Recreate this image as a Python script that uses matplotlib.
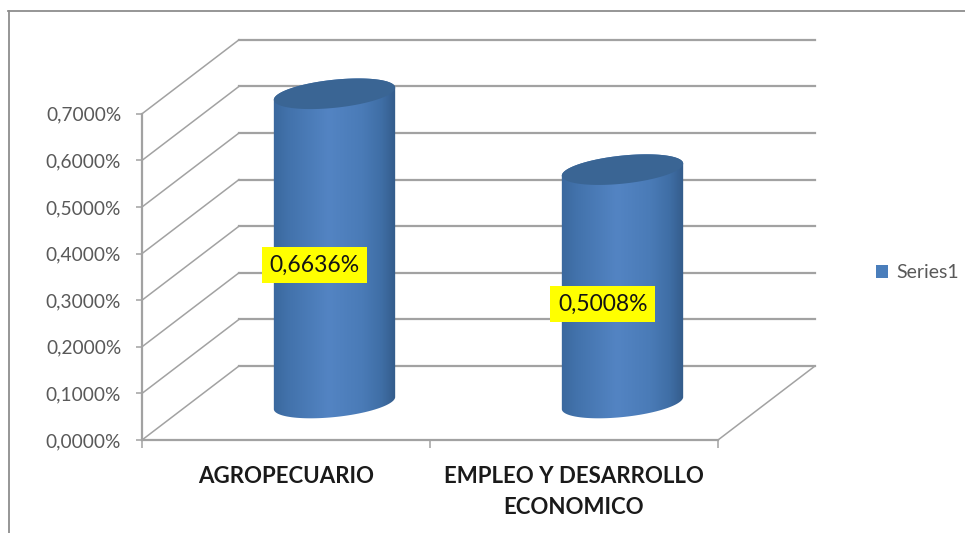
import numpy as np
import matplotlib
matplotlib.use("Agg")
import matplotlib.pyplot as plt
from matplotlib.colors import LinearSegmentedColormap
from matplotlib.lines import Line2D
from matplotlib.patches import Patch, Polygon

categories = ["AGROPECUARIO", "EMPLEO Y DESARROLLO\nECONOMICO"]
values = [0.6636, 0.5008]
value_labels = ["0,6636%", "0,5008%"]
y_ticks = [0.0, 0.1, 0.2, 0.3, 0.4, 0.5, 0.6, 0.7]
y_tick_labels = ["0,0000%", "0,1000%", "0,2000%", "0,3000%", "0,4000%", "0,5000%", "0,6000%", "0,7000%"]
series_name = "Series1"
label_frac = [0.565, 0.583]

W, H = 965, 533
X0, Y0, PX_CAT, PX_VAL = 142, 440, 288, 466   # pixel position of the origin, pixels per unit
DEPTH_X, DEPTH_Y = 97 / PX_CAT, 74 / PX_VAL
GRID = "#a2a2a2"
TICK_TXT = "#595959"

fig = plt.figure(figsize=(W / 100, H / 100), dpi=100)
ax = fig.add_axes([0, 0, 1, 1])
ax.patch.set_alpha(0)
xlim = (-X0 / PX_CAT, (W - X0) / PX_CAT)
ylim = ((Y0 - H) / PX_VAL, Y0 / PX_VAL)

# outer chart frame
for xs, ys in (([8.5 / W, 8.5 / W], [0, 1 - 11 / H]), ([8 / W, 1], [1 - 11 / H, 1 - 11 / H])):
    fig.add_artist(Line2D(xs, ys, color="#8e8e8e", lw=1.3))

# back wall gridlines and side wall diagonals
n_cat = len(categories)
for v in y_ticks:
    ax.plot([DEPTH_X, n_cat + DEPTH_X], [v + DEPTH_Y] * 2, color=GRID, lw=1.6, zorder=1)
    ax.plot([0, DEPTH_X], [v, v + DEPTH_Y], color=GRID, lw=1.1, zorder=1)
ax.plot([n_cat, n_cat + DEPTH_X], [0, DEPTH_Y], color=GRID, lw=1.1, zorder=1)

# cylinders
cmap = LinearSegmentedColormap.from_list(
    "cyl", [(0.0, "#3a689d"), (0.12, "#4272ab"), (0.45, "#5384c3"), (0.72, "#4a7bb7"),
            (0.88, "#3f6ea5"), (1.0, "#335a88")])
A, B, TILT = 61, 14, np.deg2rad(6)


def ring(cx, cy, t):
    px = A * np.cos(t) * np.cos(TILT) - B * np.sin(t) * np.sin(TILT)
    py = A * np.cos(t) * np.sin(TILT) + B * np.sin(t) * np.cos(TILT)
    return np.column_stack([cx + px / PX_CAT, cy + py / PX_VAL])


for i, v in enumerate(values):
    cx = i + 0.5 + DEPTH_X / 2
    cy = DEPTH_Y / 2
    lower = ring(cx, cy, np.linspace(np.pi, 2 * np.pi, 80))
    upper = ring(cx, cy + v, np.linspace(0, np.pi, 80))
    body = Polygon(np.vstack([lower, upper]), closed=True, transform=ax.transData, fc="none", ec="none")
    ax.add_patch(body)
    grad = np.linspace(0, 1, 256)[None, :]
    im = ax.imshow(grad, cmap=cmap, aspect="auto", zorder=3, interpolation="bilinear",
                   extent=(cx - (A + 1) / PX_CAT, cx + (A + 1) / PX_CAT, cy - 0.06, cy + v + 0.06))
    im.set_clip_path(body)
    top = ring(cx, cy + v, np.linspace(0, 2 * np.pi, 160))
    ax.add_patch(Polygon(top, closed=True, fc="#3a6594", ec="none", zorder=4))
    ax.text(i + 0.6, v * label_frac[i], value_labels[i], ha="center", va="center", zorder=6,
            fontsize=16.5, family="Lato", color="#141414",
            bbox=dict(boxstyle="square,pad=0.33", fc="#ffff00", ec="none"))

ax.set_xlim(xlim)
ax.set_ylim(ylim)

# axes
for s in ("top", "right"):
    ax.spines[s].set_visible(False)
ax.spines["left"].set_position(("data", 0))
ax.spines["left"].set_bounds(0, 0.7)
ax.spines["bottom"].set_position(("data", 0))
ax.spines["bottom"].set_bounds(0, n_cat)
for s in ("left", "bottom"):
    ax.spines[s].set_color(GRID)
    ax.spines[s].set_linewidth(1.6)
    ax.spines[s].set_zorder(2)
ax.set_yticks(y_ticks)
ax.set_yticklabels(y_tick_labels, family="Lato", fontsize=13.8, color=TICK_TXT)
ax.tick_params(axis="y", length=4, width=1.1, color=GRID, pad=11)
ax.set_xticks(range(n_cat + 1))
ax.set_xticklabels([])
ax.tick_params(axis="x", which="major", length=6, width=1.1, color=GRID)
ax.set_xticks([i + 0.5 for i in range(n_cat)], minor=True)
ax.set_xticklabels(categories, minor=True, family="Lato", fontweight="bold", fontsize=16,
                   color="#1a1a1a", linespacing=1.58)
ax.tick_params(axis="x", which="minor", length=0, pad=18.5)

leg = ax.legend(handles=[Patch(fc="#4a7ebb", ec="none", label=series_name)],
                loc="center left", bbox_to_anchor=(868 / W, 1 - 273 / H), frameon=False,
                handlelength=0.62, handleheight=0.62, handletextpad=0.45,
                borderaxespad=0, prop={"family": "Lato", "size": 14})
leg.get_texts()[0].set_color(TICK_TXT)

fig.savefig("out.png", dpi=100)
